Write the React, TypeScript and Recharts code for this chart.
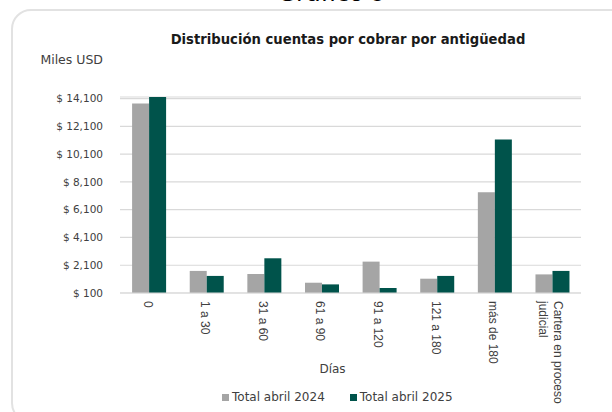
import { Bar, BarChart, CartesianGrid, Legend, XAxis, YAxis } from 'recharts'

const categories = ['0', '1 a 30', '31 a 60', '61 a 90', '91 a 120', '121 a 180', 'más de 180', 'Cartera en proceso judicial']
const total2024 = [13740, 1690, 1470, 840, 2360, 1130, 7360, 1440]
const total2025 = [14215, 1330, 2600, 720, 460, 1330, 11150, 1690]
const yTicks = [100, 2100, 4100, 6100, 8100, 10100, 12100, 14100]

const data = categories.map((c, i) => ({ cat: c, y2024: total2024[i], y2025: total2025[i] }))

const GRAY = '#a5a5a5'
const GREEN = '#00534b'
const TXT = '#404040'
const FONT = '"DejaVu Sans", sans-serif'

const fmt = (v: number) => `$ ${v.toLocaleString('en-US')}`

function CatTick({ x, y, payload }: any) {
  const label: string = payload.value
  const lines = label.startsWith('Cartera') ? ['Cartera en proceso', 'judicial'] : [label]
  const shift = lines.length > 1 ? -5.7 : 1.3
  return (
    <g transform={`translate(${x - shift},${y})`}>
      <text transform="rotate(90)" textAnchor="start" fill={TXT} fontSize={12} fontFamily='"Liberation Sans", Arial, sans-serif'>
        {lines.map((l, i) => (
          <tspan key={i} x={0} dy={i === 0 ? 4 : 15}>{l}</tspan>
        ))}
      </text>
    </g>
  )
}

function LegendBox({ payload }: any) {
  return (
    <div style={{ display: 'flex', alignItems: 'center', height: 16, paddingLeft: 222, fontSize: 12, fontFamily: FONT, color: TXT }}>
      {(payload || []).map((p: any, i: number) => (
        <span key={i} style={{ display: 'flex', alignItems: 'center', marginRight: 25 }}>
          <span style={{ display: 'inline-block', width: 7, height: 7, background: p.color, marginRight: 3 }} />
          <span>{p.value}</span>
        </span>
      ))}
    </div>
  )
}

export default function App() {
  return (
    <div style={{ position: 'absolute', left: 0, top: 0, width: 612, height: 412, overflow: 'hidden', background: '#fff', fontFamily: FONT }}>
      <div style={{ position: 'absolute', left: 0, width: 612, top: -19, textAlign: 'center', paddingLeft: 52, boxSizing: 'border-box', fontSize: 24, lineHeight: '24px', color: '#000' }}>
        Gráfico 9
      </div>
      <div style={{ position: 'absolute', left: 11, top: 9, width: 620, height: 410, border: '2px solid #e2e2e2', borderRadius: 20 }} />
      <div style={{ position: 'absolute', left: 148, width: 400, top: 32, textAlign: 'center', fontSize: 13.2, fontWeight: 'bold', color: '#1a1a1a' }}>
        Distribución cuentas por cobrar por antigüedad
      </div>
      <div style={{ position: 'absolute', left: 0, width: 103, top: 52, textAlign: 'right', fontSize: 12.5, color: TXT }}>
        Miles USD
      </div>
      <div style={{ position: 'absolute', left: 0, top: 0 }}>
        <BarChart width={612} height={412} data={data} margin={{ top: 97, right: 31, bottom: 7, left: 0 }} barCategoryGap="21%" barGap={0}>
          <CartesianGrid vertical={false} stroke="#d9d9d9" strokeWidth={1.2} />
          <XAxis
            dataKey="cat"
            height={96}
            interval={0}
            tick={<CatTick />}
            tickLine={false}
            tickSize={0}
            tickMargin={8}
            stroke="#d9d9d9"
            label={{ value: 'Días', position: 'insideBottom', offset: 16, dx: -18, fill: TXT, fontSize: 12, fontFamily: FONT }}
          />
          <YAxis
            width={120}
            domain={[100, 'dataMax']}
            ticks={yTicks}
            tickFormatter={fmt}
            axisLine={false}
            tickLine={false}
            tickSize={0}
            tickMargin={17}
            tick={{ fill: TXT, fontSize: 10.5, fontFamily: FONT }}
          />
          <Legend verticalAlign="bottom" content={<LegendBox />} wrapperStyle={{ left: 0, width: 612 }} />
          <Bar dataKey="y2024" name="Total abril 2024" fill={GRAY} isAnimationActive={false} />
          <Bar dataKey="y2025" name="Total abril 2025" fill={GREEN} isAnimationActive={false} />
        </BarChart>
      </div>
    </div>
  )
}
